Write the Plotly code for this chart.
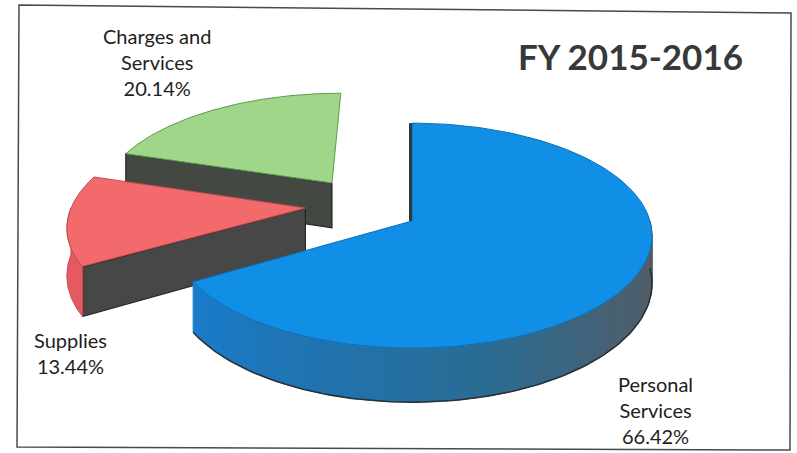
import numpy as np
import plotly.graph_objects as go

# ---- data -------------------------------------------------------------
categories = ["Personal Services", "Supplies", "Charges and Services"]
shares = [66.42, 13.44, 20.14]
label_text = ["Personal<br>Services", "Supplies", "Charges and<br>Services"]
title_text = "FY 2015-2016"

# ---- style ------------------------------------------------------------
W, H = 797, 453
X0, Y0 = 412, 221          # screen position of the pie centre (top face)
RX, RY = 238, 110.6        # ellipse radii of the tilted disc
T = 47                     # slab thickness
P = 0.13                   # perspective strength (near side larger)

# per-slice explosion, in units of the radius (in-plane u = right, v = toward viewer)
explode = {
    "Personal Services": (0.0, 0.0),
    "Supplies": (-0.455, -0.119),
    "Charges and Services": (-0.352, -0.36),
}
top_color = {
    "Personal Services": "#118fe6",
    "Supplies": "#f26a6b",
    "Charges and Services": "#9fd68a",
}
edge_color = {
    "Personal Services": "#0b6fb8",
    "Supplies": "#c84a4e",
    "Charges and Services": "#5f9a4c",
}
wall_color = {
    "Supplies": "#e55a60",
    "Charges and Services": "#86bb72",
}
face_color = {
    "Personal Services": "#3e4a52",
    "Supplies": "#474747",
    "Charges and Services": "#434843",
}
# side-wall shading of the large slice (angle in degrees -> rgb)
blue_wall_stops = [
    (90, (84, 90, 96)),
    (130, (72, 96, 114)),
    (165, (42, 108, 148)),
    (200, (32, 115, 175)),
    (240, (26, 124, 204)),
]
label_pos = {
    "Personal Services": (655, 410),
    "Supplies": (70, 353),
    "Charges and Services": (157, 62),
}
FONT = "Lato, 'Open Sans', sans-serif"


def proj(u, v, depth):
    f = 1.0 / (1.0 - P * v)
    return X0 + RX * u * f, Y0 + (RY * v + T * depth) * f


def rim(theta_deg, off, depth):
    t = np.radians(theta_deg)
    return proj(off[0] + np.sin(t), off[1] - np.cos(t), depth)


def tip(off, depth):
    return proj(off[0], off[1], depth)


def arc(a0, a1, off, depth, n=80):
    th = np.linspace(a0, a1, n)
    xs, ys = rim(th, off, depth)
    return list(xs), list(ys)


def poly(xs, ys, fill, line_color=None, line_width=0.0):
    return go.Scatter(
        x=list(xs) + [xs[0]], y=list(ys) + [ys[0]],
        mode="lines", fill="toself", fillcolor=fill,
        line=dict(color=line_color or fill, width=line_width),
        hoverinfo="skip", showlegend=False,
    )


def interp_color(theta):
    for (a, ca), (b, cb) in zip(blue_wall_stops[:-1], blue_wall_stops[1:]):
        if a <= theta <= b:
            k = (theta - a) / (b - a)
            c = [int(round(ca[i] + k * (cb[i] - ca[i]))) for i in range(3)]
            return "rgb(%d,%d,%d)" % tuple(c)
    c = blue_wall_stops[-1][1] if theta > blue_wall_stops[-1][0] else blue_wall_stops[0][1]
    return "rgb(%d,%d,%d)" % c


# slice angles, clockwise from 12 o'clock
bounds = {}
acc = 0.0
total = sum(shares)
for cat, s in zip(categories, shares):
    a0 = acc
    acc += s / total * 360.0
    bounds[cat] = (a0, acc)

traces = []
# painter's order: far slices first
draw_order = ["Charges and Services", "Supplies", "Personal Services"]
for cat in draw_order:
    a0, a1 = bounds[cat]
    off = explode[cat]

    # radial faces that look toward the viewer
    for a, sign in ((a0, -1), (a1, 1)):
        normal = np.radians(a + sign * 90)
        if -np.cos(normal) > 0.02:
            tx0, ty0 = tip(off, 0)
            tx1, ty1 = tip(off, 1)
            rx0, ry0 = rim(a, off, 0)
            rx1, ry1 = rim(a, off, 1)
            traces.append(poly([tx0, rx0, rx1, tx1], [ty0, ry0, ry1, ty1],
                               face_color[cat], "#262626", 1.2))

    # outer cylinder wall on the near half
    w0, w1 = max(a0, 90.0), min(a1, 270.0)
    if w1 > w0:
        if cat == "Personal Services":
            edges = np.linspace(w0, w1, 46)
            for s0, s1 in zip(edges[:-1], edges[1:]):
                tx, ty = arc(s0, s1, off, 0, 6)
                bx, by = arc(s0, s1, off, 1, 6)
                col = interp_color(0.5 * (s0 + s1))
                traces.append(poly(tx + bx[::-1], ty + by[::-1], col, col, 1.0))
            bx, by = arc(w0, w1, off, 1, 120)
            traces.append(go.Scatter(x=bx, y=by, mode="lines",
                                     line=dict(color="#2a3238", width=1.6),
                                     hoverinfo="skip", showlegend=False))
        else:
            tx, ty = arc(w0, w1, off, 0, 40)
            bx, by = arc(w0, w1, off, 1, 40)
            traces.append(poly(tx + bx[::-1], ty + by[::-1],
                               wall_color[cat], edge_color[cat], 1.0))

    # top face
    ax_, ay_ = arc(a0, a1, off, 0, 160)
    tx0, ty0 = tip(off, 0)
    traces.append(poly([tx0] + ax_, [ty0] + ay_, top_color[cat], edge_color[cat], 1.0))

# dark seam along the 12 o'clock edge of the large slice
off = explode["Personal Services"]
sx0, sy0 = rim(0.0, off, 0)
sx1, sy1 = tip(off, 0)
traces.append(go.Scatter(x=[sx0 - 1.5, sx1 - 1.5], y=[sy0, sy1], mode="lines",
                         line=dict(color="#2c3a44", width=3),
                         hoverinfo="skip", showlegend=False))

fig = go.Figure(traces)

annotations = []
for cat, s, txt in zip(categories, shares, label_text):
    lx, ly = label_pos[cat]
    annotations.append(dict(
        x=lx, y=ly, xref="x", yref="y", showarrow=False,
        text=f"{txt}<br>{s:.2f}%", align="center",
        font=dict(family=FONT, size=20, color="#1e1e1e"),
    ))
annotations.append(dict(
    x=630, y=56, xref="x", yref="y", showarrow=False,
    text=f"<b>{title_text}</b>",
    font=dict(family=FONT, size=35, color="#383838"),
))

fig.update_layout(
    width=W, height=H,
    margin=dict(l=0, r=0, t=0, b=0),
    paper_bgcolor="white", plot_bgcolor="white",
    xaxis=dict(range=[0, W], visible=False, fixedrange=True),
    yaxis=dict(range=[H, 0], visible=False, fixedrange=True),
    annotations=annotations,
    shapes=[dict(
        type="path", xref="x", yref="y",
        path="M 19 5 L 791 13 L 790 450 L 17 447 Z",
        line=dict(color="#4a4a4a", width=1.5),
    )],
)

fig.write_html("out.html")
